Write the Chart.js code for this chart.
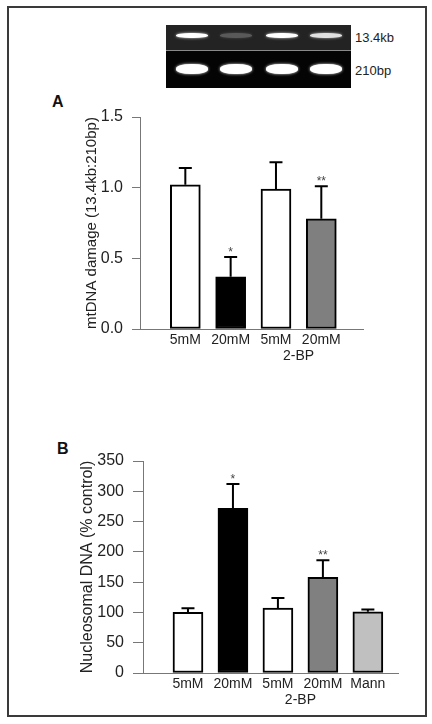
<!DOCTYPE html>
<html>
<head>
<meta charset="utf-8">
<script src="https://cdn.jsdelivr.net/npm/chart.js@4.4.0/dist/chart.umd.min.js"></script>
<style>
  body { margin: 0; background: #fff; font-family: "Liberation Sans", Arial, sans-serif; }
  #page { position: relative; width: 432px; height: 724px; overflow: hidden; }
  #frame { position: absolute; left: 7px; top: 6px; width: 420px; height: 711px; box-sizing: border-box; border: 2px solid #3a3a3a; }
  canvas { position: absolute; left: 0; }
  .panel { position: absolute; font-weight: bold; font-size: 16px; color: #111; }
  .gel { position: absolute; left: 166px; width: 185px; }
  #gelTop { top: 25px; height: 25px; background: #232323; }
  #gelBot { top: 51px; height: 37px; background: #040404; }
  #gelLine { position: absolute; left: 166px; top: 50px; width: 185px; height: 1px; background: #8a8a8a; }
  .band { position: absolute; border-radius: 45%; }
  .gl { position: absolute; left: 355px; font-size: 13px; color: #222; }
</style>
</head>
<body>
<div id="page">
  <div id="frame"></div>
  <div class="gel" id="gelTop"></div>
  <div class="gel" id="gelBot"></div>
  <div id="gelLine"></div>
  <div class="gl" style="top:30px">13.4kb</div>
  <div class="gl" style="top:63px">210bp</div>
  <div class="panel" style="left:52px; top:93px">A</div>
  <div class="panel" style="left:57px; top:440px">B</div>
  <canvas id="chartA" width="432" height="272" style="top:97px"></canvas>
  <canvas id="chartB" width="432" height="272" style="top:441px"></canvas>
</div>
<script>
// panel A: mtDNA damage
const groupsA = ['5mM', '20mM', '5mM', '20mM'];
const damageMean = [1.02, 0.37, 0.99, 0.78];
const damageSem = [0.12, 0.14, 0.19, 0.23];
const damageSig = ['', '*', '', '**'];
const damageTicks = [0, 0.5, 1.0, 1.5];

// panel B: nucleosomal DNA
const groupsB = ['5mM', '20mM', '5mM', '20mM', 'Mann'];
const nucMean = [100, 272, 107, 158, 101];
const nucSem = [7, 40, 17, 28, 4];
const nucSig = ['', '*', '', '**', ''];
const nucTicks = [0, 50, 100, 150, 200, 250, 300, 350];

// gel band intensity (13.4kb row)
const longBand = [1.0, 0.35, 1.0, 0.88];

// gel drawing (decoration)
const laneX = [26, 70, 116, 160];
laneX.forEach((cx, i) => {
  const t = document.createElement('div');
  t.className = 'band';
  const v = Math.round(255 * longBand[i]);
  t.style.cssText = `left:${cx - 16}px; top:8px; width:32px; height:5px; background:rgb(${v},${v},${v}); box-shadow:0 0 3px rgba(${v},${v},${v},0.8)`;
  document.getElementById('gelTop').appendChild(t);
  const b = document.createElement('div');
  b.className = 'band';
  b.style.cssText = `left:${cx - 16}px; top:13px; width:32px; height:10px; background:#fff; box-shadow:0 0 3px rgba(255,255,255,0.9)`;
  document.getElementById('gelBot').appendChild(b);
});

function errorBars(sem, sig) {
  return {
    id: 'errorBars',
    afterDatasetsDraw(chart) {
      const ctx = chart.ctx;
      const yScale = chart.scales.y;
      const xScale = chart.scales.x;
      const meta = chart.getDatasetMeta(0);
      const values = chart.data.datasets[0].data;
      meta.data.forEach((bar, i) => {
        const top = yScale.getPixelForValue(values[i].y + sem[i]);
        ctx.save();
        ctx.strokeStyle = '#000';
        ctx.lineWidth = 2;
        ctx.beginPath();
        ctx.moveTo(bar.x, bar.y);
        ctx.lineTo(bar.x, top);
        ctx.moveTo(bar.x - 6.5, top);
        ctx.lineTo(bar.x + 6.5, top);
        ctx.stroke();
        if (sig[i]) {
          ctx.fillStyle = '#444';
          ctx.font = '12px "Liberation Sans", Arial';
          ctx.textAlign = 'center';
          ctx.textBaseline = 'alphabetic';
          ctx.fillText(sig[i], bar.x, top - 1);
        }
        ctx.restore();
      });
      // 2-BP under the two treated bars
      const mid = (xScale.getPixelForValue(3) + xScale.getPixelForValue(4)) / 2;
      ctx.save();
      ctx.fillStyle = '#222';
      ctx.font = '14px "Liberation Sans", Arial';
      ctx.textAlign = 'center';
      ctx.textBaseline = 'top';
      ctx.fillText('2-BP', mid, xScale.top + 20);
      ctx.restore();
    }
  };
}

function makeChart(id, groups, means, sem, sig, fills, yTicks, title, opts) {
  return new Chart(document.getElementById(id), {
    type: 'bar',
    data: {
      datasets: [{
        data: means.map((m, i) => ({ x: i + 1, y: m })),
        backgroundColor: fills,
        borderColor: '#000',
        borderWidth: 2,
        borderSkipped: false,
        barThickness: 30
      }]
    },
    options: {
      responsive: false,
      animation: false,
      devicePixelRatio: 1,
      layout: { padding: { top: 20, right: opts.right, left: 0, bottom: 0 } },
      plugins: { legend: { display: false }, tooltip: { enabled: false } },
      scales: {
        x: {
          type: 'linear',
          offset: false,
          min: 0,
          max: opts.xMax,
          grid: { display: false, drawTicks: false },
          border: { display: true, color: '#777', width: 1 },
          ticks: {
            stepSize: 1,
            includeBounds: false,
            autoSkip: false,
            maxRotation: 0,
            padding: 3,
            color: '#222',
            font: { family: '"Liberation Sans", Arial', size: 14 },
            callback: v => groups[v - 1] || ''
          },
          afterFit(scale) { scale.height = 40; }
        },
        y: {
          min: yTicks[0],
          max: yTicks[yTicks.length - 1],
          afterBuildTicks(scale) { scale.ticks = yTicks.map(v => ({ value: v })); },
          grid: { drawOnChartArea: false, drawTicks: true, tickLength: opts.tickLen, color: '#777' },
          border: { display: true, color: '#777', width: 1 },
          ticks: {
            padding: opts.tickPad,
            color: '#222',
            font: { family: '"Liberation Sans", Arial', size: 16 },
            callback: v => opts.fmt(v)
          },
          title: {
            display: true,
            text: title,
            color: '#222',
            font: { family: '"Liberation Sans", Arial', size: opts.titleSize },
            padding: { top: opts.titlePad, bottom: 0 }
          },
          afterFit(scale) { scale.width = opts.left; }
        }
      }
    },
    plugins: [errorBars(sem, sig)]
  });
}

makeChart('chartA', groupsA, damageMean, damageSem, damageSig,
  ['#fff', '#000', '#fff', '#7f7f7f'], damageTicks, 'mtDNA damage (13.4kb:210bp)',
  { right: 69, xMax: 4.92, left: 140, tickLen: 8, tickPad: 9, titleSize: 15, titlePad: 83, fmt: v => v.toFixed(1) });

makeChart('chartB', groupsB, nucMean, nucSem, nucSig,
  ['#fff', '#000', '#fff', '#808080', '#c0c0c0'], nucTicks, 'Nucleosomal DNA (% control)',
  { right: 34, xMax: 5.67, left: 143, tickLen: 10, tickPad: 9, titleSize: 16, titlePad: 78, fmt: v => String(v) });
</script>
</body>
</html>
